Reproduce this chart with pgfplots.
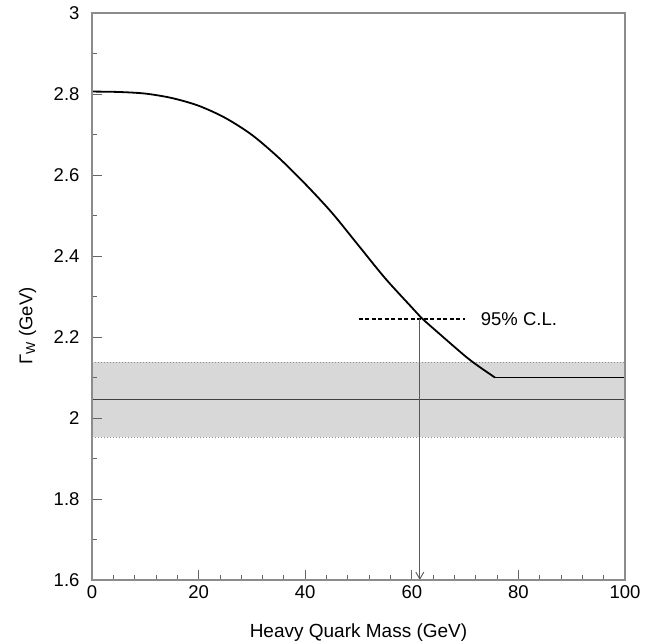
\documentclass[border=0pt]{standalone}
\usepackage{pgfplots}
\pgfplotsset{compat=1.18}
\usepackage{fontspec}
\setmainfont{Liberation Sans}
\usetikzlibrary{arrows.meta}
\definecolor{axisgray}{RGB}{140,140,140}
\definecolor{bandgray}{RGB}{216,216,216}
\begin{document}
\begin{tikzpicture}
\path[use as bounding box] (-92pt,-63pt) rectangle (572pt,580pt);
\begin{axis}[
  at={(0pt,0pt)}, anchor=south west,
  scale only axis, width=533pt, height=567pt,
  xmin=0, xmax=100, ymin=1.6, ymax=3,
  xtick={0,20,40,60,80,100}, minor x tick num=4,
  ytick={1.6,1.8,2,2.2,2.4,2.6,2.8,3},
  yticklabels={1.6,1.8,2,2.2,2.4,2.6,2.8,3},
  minor y tick num=1,
  tick align=inside, xtick pos=bottom, ytick pos=left,
  major tick length=10pt, minor tick length=5pt,
  axis line style={draw=axisgray, line width=1.6pt},
  tick style={draw=black!60, line width=0.8pt},
  axis on top,
  /pgf/number format/assume math mode=true,
  ticklabel style={font=\fontsize{18.5}{21}\selectfont},
  yticklabel style={xshift=-9pt},
  xticklabel style={yshift=-2pt},
  label style={font=\fontsize{19}{22}\selectfont},
  xlabel={Heavy Quark Mass (GeV)},
  xlabel style={at={(axis description cs:0.5,-0.092)}, anchor=center},
  ylabel={Γ\textsubscript{W} (GeV)},
  ylabel style={at={(axis description cs:-0.121,0.448)}, anchor=center, rotate=0, font=\fontsize{18.5}{21}\selectfont},
]
% band
\addplot[fill=bandgray, draw=none] coordinates {(0,1.953) (100,1.953) (100,2.138) (0,2.138)} -- cycle;
\addplot[axisgray, dotted, line width=1pt] coordinates {(0,1.953) (100,1.953)};
\addplot[axisgray, dotted, line width=1pt] coordinates {(0,2.138) (100,2.138)};
\addplot[black!75, line width=0.9pt] coordinates {(0,2.047) (100,2.047)};
% curve
\addplot[black, line width=1.8pt, smooth] coordinates {
 (0,2.806) (5,2.805) (10,2.801) (15,2.790) (20,2.771) (25,2.741) (30,2.699)
 (35,2.643) (40,2.578) (45,2.507) (50,2.426) (55,2.345) (60,2.273) (62,2.245)
 (65,2.210) (70,2.153) (72.5,2.128) (75.6,2.100)};
\addplot[black, line width=1.8pt] coordinates {(75.6,2.100) (100,2.100)};
% 95% C.L.
\addplot[black, line width=1.8pt, dash pattern=on 4pt off 2.5pt] coordinates {(50,2.245) (70,2.245)};
\addplot[black!65, line width=0.9pt, -{Straight Barb[length=7pt,width=8pt]}] coordinates {(61.5,2.245) (61.5,1.6)};
\node[anchor=west, font=\fontsize{18.5}{21}\selectfont] at (axis cs:72.3,2.245) {95\% C.L.};
\end{axis}
\end{tikzpicture}
\end{document}
